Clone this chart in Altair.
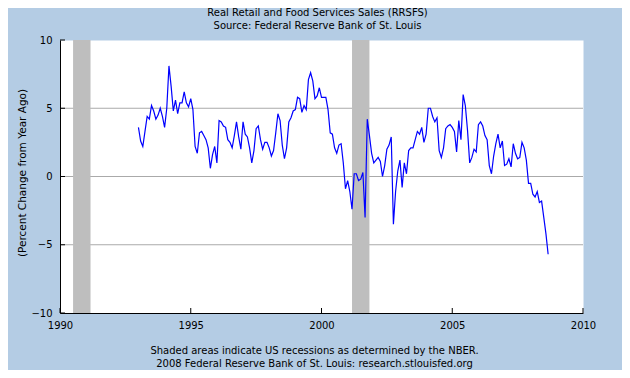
import altair as alt
import pandas as pd

title_lines = ["Real Retail and Food Services Sales (RRSFS)",
               "Source: Federal Reserve Bank of St. Louis"]
footer_lines = ["Shaded areas indicate US recessions as determined by the NBER.",
                "2008 Federal Reserve Bank of St. Louis: research.stlouisfed.org"]
y_title = "(Percent Change from Year Ago)"

start_year = 1993  # monthly values, January 1993 onward
values = [
    3.6, 2.6, 2.2, 3.3, 4.4, 4.2, 5.2, 4.8, 4.2, 4.5, 5.0, 4.4,   # 1993
    3.6, 5.0, 8.1, 6.6, 4.8, 5.6, 4.6, 5.4, 5.4, 6.2, 5.4, 5.1,   # 1994
    5.7, 4.9, 2.2, 1.7, 3.2, 3.3, 3.0, 2.7, 2.1, 0.6, 1.6, 2.2,   # 1995
    1.0, 4.1, 4.0, 3.7, 3.6, 2.7, 2.5, 2.1, 3.0, 4.0, 2.9, 2.0,   # 1996
    4.0, 3.1, 2.9, 2.1, 1.0, 1.9, 3.5, 3.7, 2.7, 2.0, 2.5, 2.5,   # 1997
    2.1, 1.5, 1.9, 3.2, 4.6, 4.1, 2.3, 1.3, 2.1, 4.0, 4.3, 4.8,   # 1998
    4.9, 5.8, 5.7, 4.7, 5.2, 4.9, 7.1, 7.6, 7.0, 5.7, 5.9, 6.5,   # 1999
    5.8, 5.8, 5.8, 4.9, 3.2, 3.1, 2.1, 1.7, 2.3, 2.4, 1.0, -0.9,  # 2000
    -0.3, -1.1, -2.4, 0.2, 0.2, -0.3, -0.2, 0.3, -3.0, 4.2, 3.0, 1.7,  # 2001
    1.0, 1.2, 1.4, 1.1, 0.0, 0.8, 2.0, 2.3, 2.9, -3.5, -1.1, 0.4,  # 2002
    1.2, -0.8, 1.0, 0.2, 1.9, 2.1, 2.1, 2.7, 3.3, 3.1, 3.6, 2.5,  # 2003
    3.1, 5.0, 5.0, 4.4, 4.0, 4.3, 1.9, 1.4, 2.1, 3.5, 3.7, 3.8,   # 2004
    3.6, 3.3, 1.8, 4.1, 2.7, 6.0, 5.2, 3.4, 1.0, 1.4, 2.0, 1.8,   # 2005
    3.8, 4.0, 3.7, 3.0, 2.7, 0.8, 0.2, 1.5, 2.4, 3.1, 2.1, 2.6,   # 2006
    0.8, 0.9, 1.3, 0.7, 2.4, 1.7, 1.3, 1.4, 2.5, 2.1, 1.2, -0.5,  # 2007
    -0.5, -1.3, -1.5, -1.1, -1.9, -1.8, -3.0, -4.2, -5.7,         # 2008
]

rec_start = [1990.5, 2001.167]
rec_end = [1991.167, 2001.833]
x_ticks = [1990, 1995, 2000, 2005, 2010]
y_ticks = [-10, -5, 0, 5, 10]
grid_vals = [-5, 0, 5]

df = pd.DataFrame({"t": [start_year + i / 12 for i in range(len(values))], "v": values})
rec = pd.DataFrame({"s": rec_start, "e": rec_end})
grid = pd.DataFrame({"g": grid_vals})
xt = pd.DataFrame({"xt": x_ticks})
yt = pd.DataFrame({"yt": y_ticks})

W, H = 523, 273
FONT = "DejaVu Sans"
xs = alt.Scale(domain=[1990, 2010], nice=False, zero=False)
ys = alt.Scale(domain=[-10, 10], nice=False, zero=False)

x_axis = alt.Axis(values=x_ticks, format="d", tickSize=0, labelPadding=7, grid=False,
                  labelFlush=False, labelOverlap=False,
                  domainColor="black", labelColor="black", labelFont=FONT, labelFontSize=10,
                  title=footer_lines, titleX=254, titleY=32, titleBaseline="top",
                  titleAlign="center", titleFontWeight="normal", titleLineHeight=13,
                  titleFont=FONT, titleFontSize=10, titleColor="black", zindex=2)
y_axis = alt.Axis(values=y_ticks, tickSize=0, labelPadding=8, grid=False,
                  labelFlush=False, labelOverlap=False,
                  domainColor="black", labelColor="black", labelFont=FONT, labelFontSize=10,
                  title=y_title, titleX=-38, titleY=H / 2 - 4, titleBaseline="middle",
                  titleAlign="center", titleFontWeight="normal", titleFont=FONT,
                  titleFontSize=10.5, titleColor="black", zindex=2)

grid_layer = alt.Chart(grid).mark_rule(color="#AAAAAA", strokeWidth=1).encode(
    y=alt.Y("g:Q", scale=ys, axis=y_axis))
rec_layer = alt.Chart(rec).mark_rect(color="#BEBEBE", opacity=1).encode(
    x=alt.X("s:Q", scale=xs, axis=x_axis), x2="e:Q")
xtick_layer = alt.Chart(xt).mark_rule(color="black").encode(
    x=alt.X("xt:Q", scale=xs, axis=x_axis), y=alt.value(H), y2=alt.value(H - 5))
ytick_layer = alt.Chart(yt).mark_rule(color="black").encode(
    y=alt.Y("yt:Q", scale=ys, axis=y_axis), x=alt.value(0), x2=alt.value(5))
line_layer = alt.Chart(df).mark_line(color="#0000FF", strokeWidth=1.2).encode(
    x=alt.X("t:Q", scale=xs, axis=x_axis), y=alt.Y("v:Q", scale=ys, axis=y_axis))

chart = alt.layer(grid_layer, rec_layer, xtick_layer, ytick_layer, line_layer).properties(
    width=W, height=H,
    background="#B4CCE4",
    autosize=alt.AutoSizeParams(type="none"),
    padding={"left": 52, "top": 32, "right": 39, "bottom": 57},
    title=alt.TitleParams(text=title_lines, fontSize=10, font=FONT, fontWeight="normal",
                          offset=4, lineHeight=13, anchor="middle", dx=-4, color="black"),
).configure_view(fill="white", strokeOpacity=0)

chart.save("out.html", embed_options={"renderer": "svg", "actions": False})
